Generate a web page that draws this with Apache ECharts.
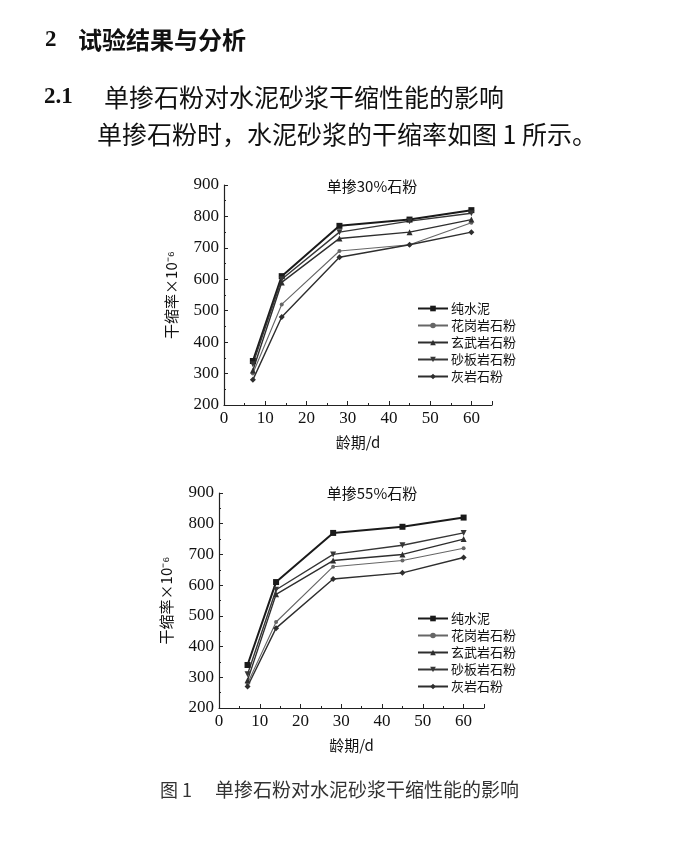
<!DOCTYPE html>
<html>
<head>
<meta charset="utf-8">
<script src="https://cdn.jsdelivr.net/npm/echarts@6/dist/echarts.min.js"></script>
<style>
html,body{margin:0;padding:0;background:#fff;}
#c{width:676px;height:858px;}
</style>
</head>
<body>
<div id="c"></div>
<script>
// ---- data ----
const days = [7, 14, 28, 45, 60];
const seriesNames = ['纯水泥', '花岗岩石粉', '玄武岩石粉', '砂板岩石粉', '灰岩石粉'];
const xTicks = [0, 10, 20, 30, 40, 50, 60];
const yTicks = [200, 300, 400, 500, 600, 700, 800, 900];

// 单掺30%石粉
const pure30 = [340, 610, 770, 790, 820];
const granite30 = [300, 520, 690, 710, 780];
const basalt30 = [310, 590, 730, 750, 790];
const slate30 = [330, 600, 750, 785, 810];
const lime30 = [280, 480, 670, 710, 750];

// 单掺55%石粉
const pure55 = [340, 610, 770, 790, 820];
const granite55 = [280, 480, 660, 680, 720];
const basalt55 = [290, 570, 680, 700, 750];
const slate55 = [310, 585, 700, 730, 770];
const lime55 = [270, 460, 620, 640, 690];

const titles = ['单掺30%石粉', '单掺55%石粉'];

// ---- styles ----
const styleDefs = [
  {symbol: 'rect', size: 6, rotate: 0, color: '#1a1a1a', width: 2},
  {symbol: 'circle', size: 4, rotate: 0, color: '#666', width: 1.1},
  {symbol: 'triangle', size: 6, rotate: 0, color: '#2e2e2e', width: 1.4},
  {symbol: 'triangle', size: 6, rotate: 180, color: '#363636', width: 1.4},
  {symbol: 'diamond', size: 6, rotate: 0, color: '#2e2e2e', width: 1.4}
];

const groups = [
  [pure30, granite30, basalt30, slate30, lime30],
  [pure55, granite55, basalt55, slate55, lime55]
];

const grids = [
  {left: 224, top: 185, width: 268, height: 220},
  {left: 219, top: 493, width: 265, height: 215}
];

const serif = '"Liberation Serif", "Times New Roman", serif';
const cjk = '"Noto Sans CJK SC", sans-serif';

function xAxis(i) {
  return {
    gridIndex: i, type: 'value', min: 0, max: 65, interval: 10,
    name: '龄期/d', nameLocation: 'middle', nameGap: 30,
    nameTextStyle: {fontFamily: cjk, fontSize: 15, color: '#111', padding: [0, 0, 0, 0]},
    axisLine: {show: true, lineStyle: {color: '#222', width: 1.2}},
    axisTick: {show: true, inside: true, length: 4, lineStyle: {color: '#222'}},
    minorTick: {show: true, splitNumber: 2, length: 2, lineStyle: {color: '#222'}},
    splitLine: {show: false},
    axisLabel: {
      fontFamily: serif, fontSize: 17, color: '#111', margin: 5,
      showMaxLabel: false,
      formatter: v => (xTicks.indexOf(v) >= 0 ? String(v) : '')
    }
  };
}
function yAxis(i) {
  return {
    gridIndex: i, type: 'value', min: 200, max: 900, interval: 100,
    name: '干缩率×10⁻⁶', nameLocation: 'middle', nameGap: 45, nameRotate: 90,
    nameTextStyle: {fontFamily: cjk, fontSize: 15, color: '#111'},
    axisLine: {show: true, lineStyle: {color: '#222', width: 1.2}},
    axisTick: {show: true, inside: true, length: 4, lineStyle: {color: '#222'}},
    minorTick: {show: true, splitNumber: 2, length: 2, lineStyle: {color: '#222'}},
    splitLine: {show: false},
    axisLabel: {
      fontFamily: serif, fontSize: 17, color: '#111', margin: 5,
      formatter: v => (yTicks.indexOf(v) >= 0 ? String(v) : '')
    }
  };
}

const series = [];
groups.forEach((g, gi) => {
  g.forEach((vals, si) => {
    const s = styleDefs[si];
    series.push({
      name: seriesNames[si], type: 'line', xAxisIndex: gi, yAxisIndex: gi,
      data: days.map((d, k) => [d, vals[k]]),
      symbol: s.symbol, symbolSize: s.size, symbolRotate: s.rotate,
      showAllSymbol: true,
      lineStyle: {color: s.color, width: s.width},
      itemStyle: {color: s.color},
      emphasis: {disabled: true},
      animation: false
    });
  });
});

const legendCommon = {
  orient: 'vertical', itemWidth: 30, itemHeight: 7, itemGap: 4,
  textStyle: {fontFamily: cjk, fontSize: 13, lineHeight: 13, color: '#111', padding: [0, 0, 0, -2]},
  data: seriesNames, selectedMode: false
};

const option = {
  backgroundColor: '#fff',
  animation: false,
  title: [
    {text: titles[0], left: 367, top: 174, textAlign: 'center',
     textStyle: {fontFamily: cjk, fontSize: 15, fontWeight: 'normal', color: '#111'}},
    {text: titles[1], left: 367, top: 481, textAlign: 'center',
     textStyle: {fontFamily: cjk, fontSize: 15, fontWeight: 'normal', color: '#111'}}
  ],
  grid: grids,
  xAxis: [xAxis(0), xAxis(1)],
  yAxis: [yAxis(0), yAxis(1)],
  legend: [
    Object.assign({left: 412, top: 297}, legendCommon),
    Object.assign({left: 412, top: 607}, legendCommon)
  ],
  series: series,
  graphic: [
    {type: 'text', x: 45, y: 40, style: {text: '2', font: 'bold 23px ' + serif, fill: '#111', verticalAlign: 'middle'}},
    {type: 'text', x: 78, y: 40, style: {text: '试验结果与分析', font: 'bold 24px ' + cjk, fill: '#111', verticalAlign: 'middle'}},
    {type: 'text', x: 44, y: 97, style: {text: '2.1', font: 'bold 23px ' + serif, fill: '#111', verticalAlign: 'middle'}},
    {type: 'text', x: 104, y: 97, style: {text: '单掺石粉对水泥砂浆干缩性能的影响', font: '25px ' + cjk, fill: '#111', verticalAlign: 'middle'}},
    {type: 'text', x: 97, y: 134, style: {text: '单掺石粉时，水泥砂浆的干缩率如图 1 所示。', font: '25px ' + cjk, fill: '#111', verticalAlign: 'middle'}},
    {type: 'text', x: 160, y: 790, style: {text: '图 1', font: '18px ' + cjk, fill: '#333', verticalAlign: 'middle'}},
    {type: 'text', x: 215, y: 790, style: {text: '单掺石粉对水泥砂浆干缩性能的影响', font: '19px ' + cjk, fill: '#333', verticalAlign: 'middle'}}
  ]
};

const chart = echarts.init(document.getElementById('c'), null, {renderer: 'canvas'});
chart.setOption(option);
</script>
</body>
</html>
